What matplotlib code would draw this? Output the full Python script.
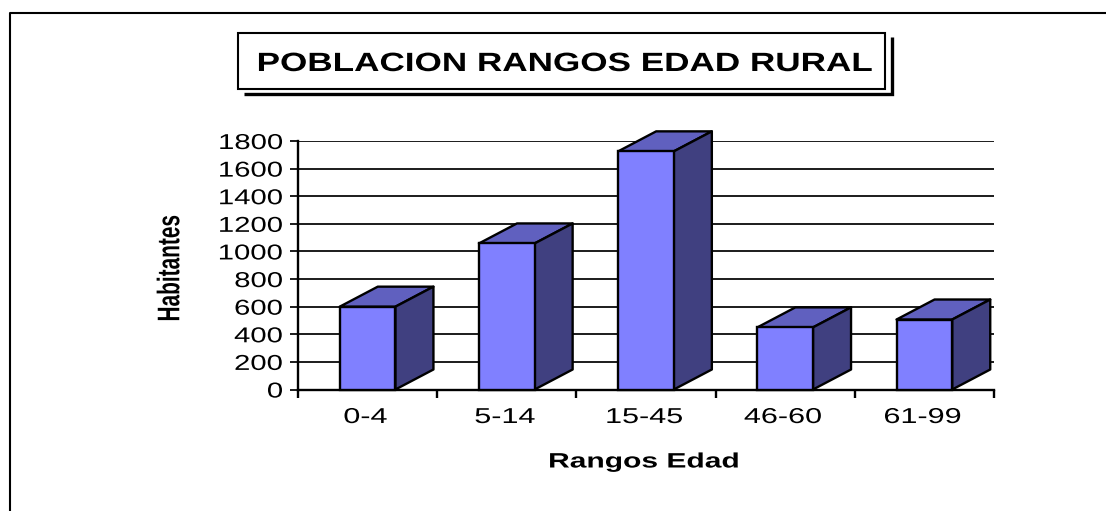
import matplotlib
matplotlib.use("Agg")
import matplotlib.pyplot as plt
from matplotlib.lines import Line2D
from matplotlib.patches import Rectangle
from matplotlib.patheffects import AbstractPathEffect
from matplotlib.transforms import Affine2D

categories = ["0-4", "5-14", "15-45", "46-60", "61-99"]
values = [600, 1058, 1725, 450, 507]
y_ticks = [0, 200, 400, 600, 800, 1000, 1200, 1400, 1600, 1800]
title = "POBLACION RANGOS EDAD RURAL"
x_label = "Rangos Edad"
y_label = "Habitantes"

W, H = 1106, 511
plt.rcParams["font.family"] = ["Liberation Sans", "DejaVu Sans"]


class HStretch(AbstractPathEffect):
    """Widen a text horizontally about a fixed display x (the source image is stretched)."""
    def __init__(self, sx, cx):
        super().__init__()
        self.sx, self.cx = sx, cx

    def draw_path(self, renderer, gc, tpath, affine, rgbFace=None):
        a = affine + Affine2D().translate(-self.cx, 0).scale(self.sx, 1).translate(self.cx, 0)
        renderer.draw_path(gc, tpath, a, rgbFace)


fig = plt.figure(figsize=(W / 100, H / 100), dpi=100, facecolor="white")
L, R, B, T = 298, 994, 389.5, 141
ax = fig.add_axes([L / W, (H - B) / H, (R - L) / W, (B - T) / H])
ax.set_xlim(0, len(categories))
ax.set_ylim(0, 1800)
ax.patch.set_visible(False)


def px(x, y):
    return x / W, (H - y) / H


# outer frame and title box
lw2 = 1.7
fig.add_artist(Line2D(*zip(px(10, H), px(10, 13.5), px(W, 13.5)), color="black", lw=1.5))
fig.add_artist(Rectangle(px(238, 89), 647 / W, 56 / H, transform=fig.transFigure,
                         facecolor="white", edgecolor="black", lw=1.5))
fig.add_artist(Line2D(*zip(px(244, 94.5), px(891.5, 94.5), px(891.5, 37)), color="black", lw=2.4,
                      solid_joinstyle="miter", solid_capstyle="butt"))

# axes
for s in ("top", "right"):
    ax.spines[s].set_visible(False)
for s in ("left", "bottom"):
    ax.spines[s].set_linewidth(lw2)
ax.set_yticks(y_ticks)
ax.yaxis.grid(True, color="black", lw=1.25, zorder=1)
ax.set_axisbelow(True)
ax.set_xticks(range(len(categories) + 1))
ax.set_xticklabels([])
ax.tick_params(axis="x", length=6, width=lw2, pad=0)
ax.tick_params(axis="y", length=6, width=1.25, labelsize=15.5, pad=5)

# 3-D bars
bar_w = 0.4
depth_x = 38 / ((R - L) / len(categories))
depth_y = 20 / ((B - T) / 1800)
FRONT, TOP, SIDE = "#8080FF", "#6060BF", "#404080"
for i, v in enumerate(values):
    x0, x1 = i + 0.5 - bar_w / 2, i + 0.5 + bar_w / 2
    ax.fill([x0, x1, x1 + depth_x, x0 + depth_x], [v, v, v + depth_y, v + depth_y],
            facecolor=TOP, edgecolor="black", lw=lw2, clip_on=False, zorder=3, joinstyle="round")
    ax.fill([x1, x1 + depth_x, x1 + depth_x, x1], [0, depth_y, v + depth_y, v],
            facecolor=SIDE, edgecolor="black", lw=lw2, clip_on=False, zorder=3, joinstyle="round")
ax.bar([i + 0.5 for i in range(len(values))], values, width=bar_w, color=FRONT,
       edgecolor="black", lw=lw2, zorder=4, clip_on=False)

# y tick labels, stretched around their right edge
for lab in ax.get_yticklabels():
    lab.set_path_effects([HStretch(1.36, 281)])

# x tick labels
for i, c in enumerate(categories):
    xd = ax.transData.transform((i + 0.5, 0))[0]
    t = ax.annotate(c, (i + 0.5, 0), xytext=(xd - 2, H - 417.5), xycoords="data", textcoords="figure pixels",
                    ha="center", va="center", fontsize=15.5, annotation_clip=False)
    t.set_path_effects([HStretch(1.42, xd - 2)])

# title and axis labels
fig.text(*px(564.5, 64), title, ha="center", va="center", fontsize=19, fontweight="bold",
         path_effects=[HStretch(1.33, 564.5)])
fig.text(*px(644, 462), x_label, ha="center", va="center", fontsize=15, fontweight="bold",
         path_effects=[HStretch(1.44, 644)])
fig.text(*px(171, 268), y_label, ha="center", va="center", rotation=90, fontsize=15,
         fontweight="bold", path_effects=[HStretch(1.5, 171)])

fig.savefig("out.png", dpi=100)
